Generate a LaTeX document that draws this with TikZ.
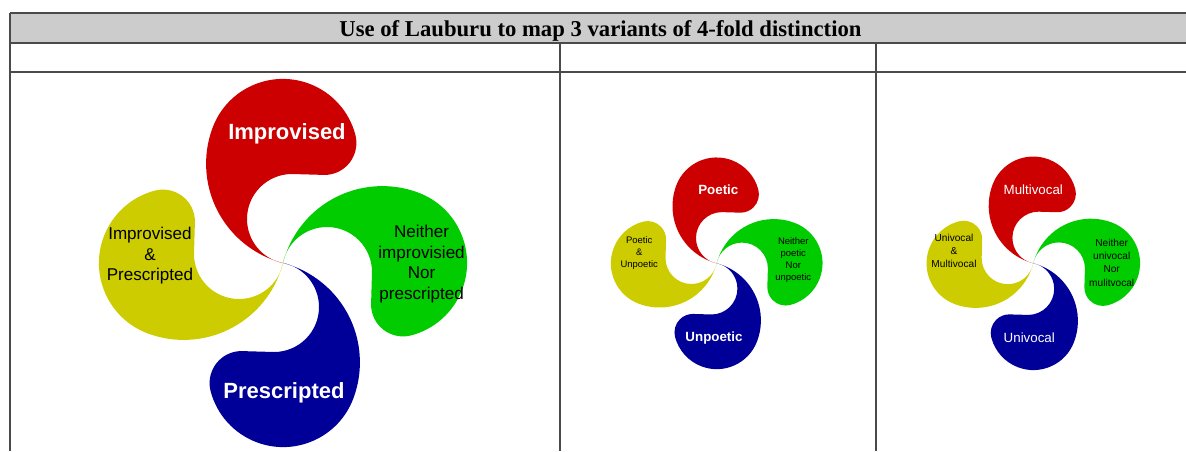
\documentclass[tikz,border=0pt]{standalone}
\usepackage{fontspec}
\setmainfont{Liberation Serif}
\setsansfont{Liberation Sans}
\usetikzlibrary{positioning}

\definecolor{lred}{HTML}{CC0000}
\definecolor{lgreen}{HTML}{00CC00}
\definecolor{lblue}{HTML}{000099}
\definecolor{lyellow}{HTML}{CCCC00}
\definecolor{hdrgray}{HTML}{CCCCCC}
\definecolor{rulegray}{HTML}{4A4A4A}

% one comma of the lauburu, pointing up, tail at the origin
\tikzset{
  blade/.pic={
    \fill[pic actions] (0,0) arc[start angle=255.5, end angle=159.3, radius=102.6]
      arc[start angle=159.3, end angle=14.8, radius=75]
      arc[start angle=14.8, end angle=-90, radius=32]
      -- (9,89)
      arc[start angle=90, end angle=258.4, radius=45] -- cycle;
  }
}

\begin{document}
\begin{tikzpicture}[x=0.75pt, y=0.75pt, inner sep=0pt,
    rule/.style={draw=rulegray, line width=1.2pt},
    bigword/.style={text=white, font=\sffamily\bfseries\fontsize{16.5}{19}\selectfont},
    biglbl/.style={align=center, font=\sffamily\fontsize{12.8}{15.4}\selectfont},
    midword/.style={text=white, font=\sffamily\bfseries\fontsize{10}{12}\selectfont},
    midlbl/.style={align=center, font=\sffamily\fontsize{7.1}{9.2}\selectfont},
    smallword/.style={text=white, font=\sffamily\fontsize{10}{12}\selectfont},
    smalllbl/.style={align=center, font=\sffamily\fontsize{7.6}{9.8}\selectfont}]
  \useasboundingbox (0,0) rectangle (1186,-451);

  % table: header band and rules
  \fill[hdrgray] (10,-13) rectangle (1186,-43);
  \node[anchor=base, font=\bfseries\fontsize{17}{20}\selectfont] (title) at (600.5,-36)
    {Use of Lauburu to map 3 variants of 4-fold distinction};
  \draw[rule] (10,-13) -- (1186,-13);
  \draw[rule] (10,-43) -- (1186,-43);
  \draw[rule] (10,-72) -- (1186,-72);
  \draw[rule] (10,-13) -- (10,-451);
  \draw[rule] (560,-43) -- (560,-451);
  \draw[rule] (876,-43) -- (876,-451);

  % Lauburu 1: improvised / prescripted
  \coordinate (c1) at (283,-263);
  \pic[fill=lred] at (c1) {blade};
  \pic[fill=lgreen, rotate=-90] at (c1) {blade};
  \pic[fill=lblue, rotate=180] at (c1) {blade};
  \pic[fill=lyellow, rotate=90] at (c1) {blade};
  \node[bigword] (imp) at ([shift={(4,129)}]c1) {Improvised};
  \node[bigword] (pre) at ([shift={(1,-130)}]c1) {Prescripted};
  \node[biglbl] (both1) at ([shift={(-133,7)}]c1) {Improvised\\\&\\Prescripted};
  \node[biglbl] (none1) at ([shift={(138.6,-1)}]c1) {Neither\\improvisied\\Nor\\prescripted};

  % Lauburu 2: poetic / unpoetic
  \coordinate (c2) at (716.7,-263.3);
  \pic[fill=lred, scale=0.575] at (c2) {blade};
  \pic[fill=lgreen, rotate=-90, scale=0.575] at (c2) {blade};
  \pic[fill=lblue, rotate=180, scale=0.575] at (c2) {blade};
  \pic[fill=lyellow, rotate=90, scale=0.575] at (c2) {blade};
  \node[midword] (poe) at ([shift={(1.6,73.3)}]c2) {Poetic};
  \node[midword] (unp) at ([shift={(-2.7,-74.4)}]c2) {Unpoetic};
  \node[midlbl] (both2) at ([shift={(-77.4,10.3)}]c2) {Poetic\\\&\\Unpoetic};
  \node[midlbl] (none2) at ([shift={(76.6,3.3)}]c2) {Neither\\poetic\\Nor\\unpoetic};

  % Lauburu 3: multivocal / univocal
  \coordinate (c3) at (1033.3,-263.3);
  \pic[fill=lred, scale=0.58] at (c3) {blade};
  \pic[fill=lgreen, rotate=-90, scale=0.58] at (c3) {blade};
  \pic[fill=lblue, rotate=180, scale=0.58] at (c3) {blade};
  \pic[fill=lyellow, rotate=90, scale=0.58] at (c3) {blade};
  \node[smallword] (mul) at ([shift={(0,74)}]c3) {Multivocal};
  \node[smallword] (uni) at ([shift={(-4,-74)}]c3) {Univocal};
  \node[smalllbl] (both3) at ([shift={(-79.3,12)}]c3) {Univocal\\\&\\Multivocal};
  \node[smalllbl] (none3) at ([shift={(78.4,0.5)}]c3) {Neither\\univocal\\Nor\\mulitvocal};
\end{tikzpicture}
\end{document}
